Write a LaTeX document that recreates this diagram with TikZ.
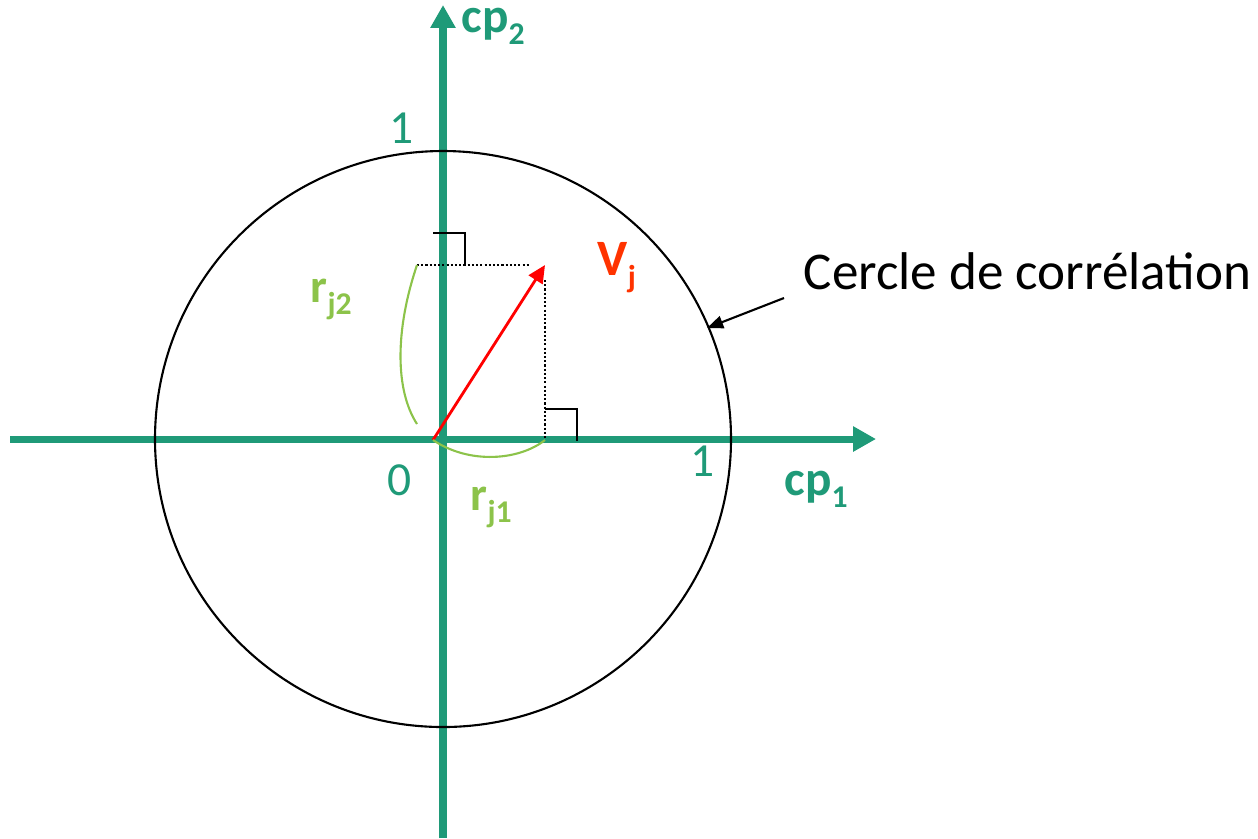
\documentclass[tikz,border=0pt]{standalone}
\usepackage{fontspec}
\setmainfont{Carlito}
\usetikzlibrary{arrows.meta}
\definecolor{axisgreen}{RGB}{31,154,120}
\definecolor{corrgreen}{RGB}{140,195,74}
\definecolor{vecred}{RGB}{255,51,0}
\newcommand{\lowsub}[1]{\raisebox{-3.6pt}{\fontsize{9}{9}\selectfont #1}}
\begin{document}
\begin{tikzpicture}[x=0.01cm, y=-0.01cm,
  axis/.style={line width=2pt, draw=axisgreen, -{Triangle[length=6.5pt,width=6.8pt]}},
  rightangle/.style={line width=0.6pt},
  every node/.style={inner sep=0pt, anchor=base west}]
  \useasboundingbox (0,0) rectangle (1258,838);
  % axes and circle
  \coordinate (xl) at (10,439);
  \coordinate (xr) at (876,439);
  \coordinate (yb) at (443,838);
  \coordinate (yt) at (443,5);
  \coordinate (c) at (443,439);
  \draw[axis] (xl) -- (xr);
  \draw[axis] (yb) -- (yt);
  \draw[line width=0.6pt] (c) circle[radius=288];
  % labels
  \node[font=\fontsize{14}{15}\selectfont\bfseries, text=axisgreen] (cp2) at (461,32) {cp\lowsub{2}};
  \node[font=\fontsize{14}{15}\selectfont\bfseries, text=axisgreen] (cp1) at (784,495) {cp\lowsub{1}};
  \node[font=\fontsize{13.5}{14}\selectfont, text=axisgreen, anchor=base] (one2) at (402,143) {1};
  \node[font=\fontsize{13.5}{14}\selectfont, text=axisgreen, anchor=base] (one1) at (703,476) {1};
  \node[font=\fontsize{13.5}{14}\selectfont, text=axisgreen, anchor=base] (zero) at (400,495) {0};
  \node[font=\fontsize{13.5}{14}\selectfont\bfseries, text=corrgreen] (rj1) at (470,510) {r\lowsub{j1}};
  \node[font=\fontsize{13.5}{14}\selectfont\bfseries, text=corrgreen] (rj2) at (310,302) {r\lowsub{j2}};
  \node[font=\fontsize{14.5}{15}\selectfont\bfseries, text=vecred] (vjl) at (597,275) {V\lowsub{j}};
  \node[font=\fontsize{15.1}{16}\selectfont] (cercle) at (803,289) {Cercle de corrélation};
  % vector and projections
  \coordinate (o) at (433,440);
  \coordinate (vj) at (545,265);
  \coordinate (p2) at (417,265);
  \coordinate (q2) at (530,265);
  \coordinate (p1) at (545,280);
  \coordinate (q1) at (545,440);
  \draw[dash pattern=on 0.6pt off 0.6pt, line width=0.5pt] (p2) -- (q2);
  \draw[dash pattern=on 0.6pt off 0.6pt, line width=0.5pt] (p1) -- (q1);
  \foreach \a/\b in {433/233, 545/409}
    \draw[rightangle] (\a,\b) -- ++(32,0) -- ++(0,32);
  \draw[red, line width=0.8pt, -{Triangle[length=5pt,width=4.6pt]}] (o) -- (vj);
  \draw[corrgreen, line width=0.6pt] (p2) .. controls (395,330) and (395,390) .. (417,424);
  \draw[corrgreen, line width=0.6pt] (o) .. controls (470,465) and (520,460) .. (q1);
  % pointer to the circle
  \coordinate (from) at (784,298);
  \coordinate (to) at (707,328);
  \draw[line width=0.6pt, -{Triangle[length=4.6pt,width=3.6pt]}] (from) -- (to);
\end{tikzpicture}
\end{document}
